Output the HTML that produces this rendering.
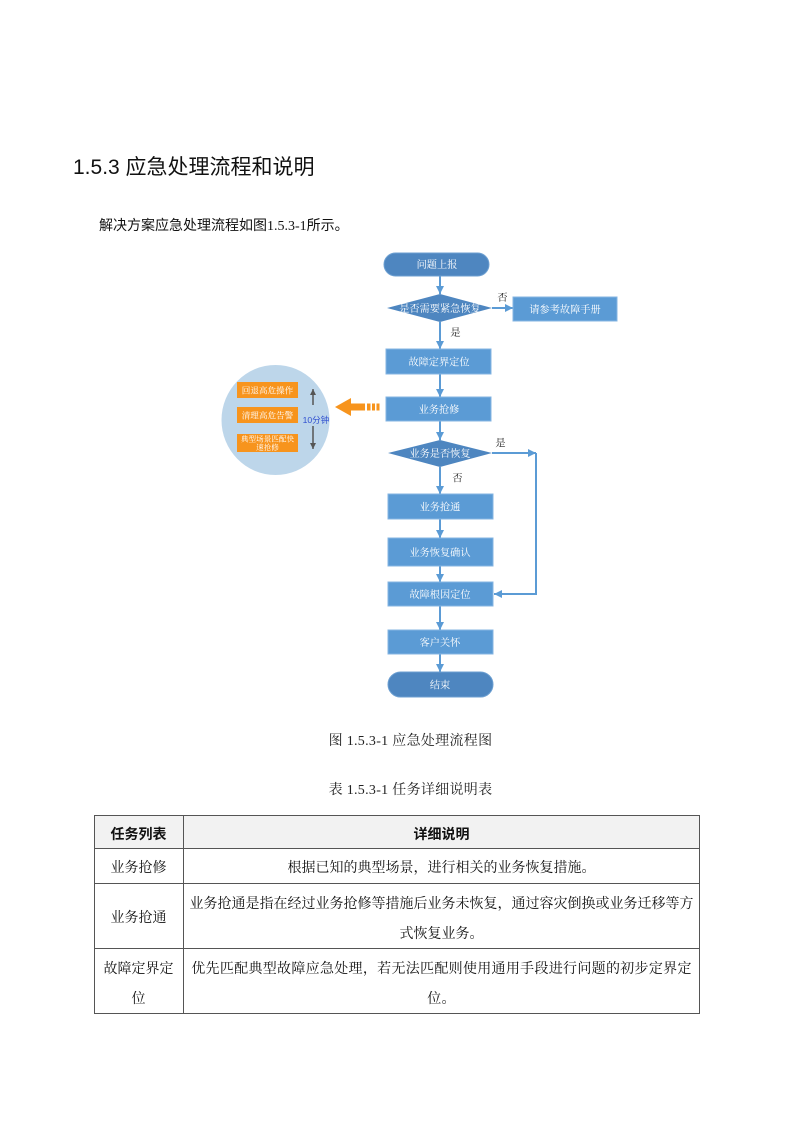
<!DOCTYPE html>
<html>
<head>
<meta charset="utf-8">
<style>
  html,body{margin:0;padding:0;background:#ffffff;}
  body{width:793px;height:1122px;position:relative;overflow:hidden;}
  .abs{position:absolute;white-space:nowrap;}
  .sans{font-family:"Liberation Sans","Noto Sans CJK SC",sans-serif;}
  .serif{font-family:"Liberation Serif","Noto Serif CJK SC",serif;}
  .cell{position:absolute;text-align:center;white-space:nowrap;font-family:"Liberation Serif","Noto Serif CJK SC",serif;font-size:14px;line-height:30px;color:#111;}
</style>
</head>
<body>

<div class="abs sans" style="left:73px;top:156px;font-size:21px;line-height:24px;color:#111;">1.5.3 应急处理流程和说明</div>

<div class="abs sans" style="left:99px;top:216px;font-size:14px;line-height:18px;color:#111;">解决方案应急处理流程如图<span style="font-family:'Liberation Serif',serif;">1.5.3-1</span>所示。</div>

<svg class="abs" style="left:0;top:0;" width="793" height="1122" viewBox="0 0 793 1122" xmlns="http://www.w3.org/2000/svg">
  <defs>
    <marker id="ab" markerUnits="userSpaceOnUse" markerWidth="9" markerHeight="9" refX="8" refY="4" orient="auto">
      <path d="M0,0 L8,4 L0,8 z" fill="#5b9bd5"/>
    </marker>
    <marker id="ag" markerUnits="userSpaceOnUse" markerWidth="7" markerHeight="9" refX="6" refY="3" orient="auto">
      <path d="M0,0 L6,3 L0,6 z" fill="#555"/>
    </marker>
  </defs>

  <!-- left circle -->
  <ellipse cx="275.5" cy="420" rx="54" ry="55" fill="#bdd6ea"/>
  <rect x="237" y="382" width="61" height="16" fill="#f7941d"/>
  <rect x="237" y="407" width="61" height="16" fill="#f7941d"/>
  <rect x="237" y="434" width="61" height="18" fill="#f7941d"/>
  <g font-family="Liberation Serif, Noto Serif CJK SC, serif" fill="#ffffff" text-anchor="middle">
    <text x="267.5" y="393.5" font-size="8.6">回退高危操作</text>
    <text x="267.5" y="418.5" font-size="8.6">清理高危告警</text>
    <text x="267.5" y="441.5" font-size="7.6">典型场景匹配快</text>
    <text x="267.5" y="450" font-size="7.6">速抢修</text>
  </g>
  <line x1="313" y1="405" x2="313" y2="389" stroke="#555" stroke-width="1.5" marker-end="url(#ag)"/>
  <line x1="313" y1="426" x2="313" y2="449" stroke="#555" stroke-width="1.5" marker-end="url(#ag)"/>
  <text x="316" y="423" font-family="Liberation Sans, Noto Sans CJK SC, sans-serif" font-size="8.6" fill="#2f4fd0" text-anchor="middle">10分钟</text>

  <!-- orange arrow -->
  <polygon points="335,407 351,398 351,416" fill="#f7941d"/>
  <rect x="350" y="403.5" width="15" height="7" fill="#f7941d"/>
  <rect x="367" y="403.5" width="3.5" height="7" fill="#f7941d"/>
  <rect x="372" y="403.5" width="3" height="7" fill="#f7941d"/>
  <rect x="376.5" y="403.5" width="3" height="7" fill="#f7941d"/>

  <!-- connectors -->
  <g stroke="#5b9bd5" stroke-width="2" fill="none">
    <line x1="440" y1="276" x2="440" y2="294" marker-end="url(#ab)"/>
    <line x1="492" y1="308" x2="513" y2="308" marker-end="url(#ab)"/>
    <line x1="440" y1="322" x2="440" y2="349" marker-end="url(#ab)"/>
    <line x1="440" y1="374" x2="440" y2="397" marker-end="url(#ab)"/>
    <line x1="440" y1="421" x2="440" y2="440" marker-end="url(#ab)"/>
    <line x1="492" y1="453" x2="536" y2="453" marker-end="url(#ab)"/>
    <path d="M536,453 V594 H494" marker-end="url(#ab)"/>
    <line x1="440" y1="467" x2="440" y2="494" marker-end="url(#ab)"/>
    <line x1="440" y1="519" x2="440" y2="538" marker-end="url(#ab)"/>
    <line x1="440" y1="566" x2="440" y2="582" marker-end="url(#ab)"/>
    <line x1="440" y1="606" x2="440" y2="630" marker-end="url(#ab)"/>
    <line x1="440" y1="654" x2="440" y2="672" marker-end="url(#ab)"/>
  </g>

  <!-- shapes -->
  <rect x="384" y="253" width="105" height="23" rx="11.5" fill="#4e86c0" stroke="#6c9fd1" stroke-width="1"/>
  <polygon points="387,308 440,294 492,308 440,322" fill="#4e86c0"/>
  <rect x="513" y="297" width="104" height="24" fill="#5b9bd5" stroke="#84b5e2" stroke-width="1"/>
  <rect x="386" y="349" width="105" height="25" fill="#5b9bd5" stroke="#84b5e2" stroke-width="1"/>
  <rect x="386" y="397" width="105" height="24" fill="#5b9bd5" stroke="#84b5e2" stroke-width="1"/>
  <polygon points="388,453 440,440 492,453 440,467" fill="#4e86c0"/>
  <rect x="388" y="494" width="105" height="25" fill="#5b9bd5" stroke="#84b5e2" stroke-width="1"/>
  <rect x="388" y="538" width="105" height="28" fill="#5b9bd5" stroke="#84b5e2" stroke-width="1"/>
  <rect x="388" y="582" width="105" height="24" fill="#5b9bd5" stroke="#84b5e2" stroke-width="1"/>
  <rect x="388" y="630" width="105" height="24" fill="#5b9bd5" stroke="#84b5e2" stroke-width="1"/>
  <rect x="388" y="672" width="105" height="25" rx="12.5" fill="#4e86c0" stroke="#6c9fd1" stroke-width="1"/>

  <g font-family="Liberation Serif, Noto Serif CJK SC, serif" font-size="10.2" fill="#ffffff" text-anchor="middle">
    <text x="437" y="268">问题上报</text>
    <text x="440" y="312">是否需要紧急恢复</text>
    <text x="565" y="313">请参考故障手册</text>
    <text x="439" y="365.5">故障定界定位</text>
    <text x="439" y="413">业务抢修</text>
    <text x="440" y="457">业务是否恢复</text>
    <text x="440" y="510.5">业务抢通</text>
    <text x="440" y="556">业务恢复确认</text>
    <text x="440" y="598">故障根因定位</text>
    <text x="440" y="646">客户关怀</text>
    <text x="440" y="688.5">结束</text>
  </g>
  <g font-family="Liberation Serif, Noto Serif CJK SC, serif" font-size="10.2" fill="#222" text-anchor="middle">
    <text x="502.5" y="301">否</text>
    <text x="455.5" y="336">是</text>
    <text x="500.5" y="446.5">是</text>
    <text x="457.5" y="481.5">否</text>
  </g>

  <!-- table -->
  <rect x="94.5" y="815.5" width="605" height="33" fill="#f2f2f2"/>
  <g stroke="#555" stroke-width="1" fill="none">
    <rect x="94.5" y="815.5" width="605" height="198"/>
    <line x1="94.5" y1="848.5" x2="699.5" y2="848.5"/>
    <line x1="94.5" y1="883.5" x2="699.5" y2="883.5"/>
    <line x1="94.5" y1="948.5" x2="699.5" y2="948.5"/>
    <line x1="183.5" y1="815.5" x2="183.5" y2="1013.5"/>
  </g>
</svg>

<div class="abs serif" style="left:300px;top:733px;width:221px;text-align:center;font-size:14px;line-height:18px;color:#222;letter-spacing:0.3px;">图 1.5.3-1 应急处理流程图</div>
<div class="abs serif" style="left:300px;top:782px;width:221px;text-align:center;font-size:14px;line-height:18px;color:#222;letter-spacing:0.3px;">表 1.5.3-1 任务详细说明表</div>

<div class="cell sans" style="left:94px;top:819px;width:89px;font-weight:bold;font-family:'Liberation Sans','Noto Sans CJK SC',sans-serif;font-size:14px;">任务列表</div>
<div class="cell sans" style="left:183px;top:819px;width:517px;font-weight:bold;font-family:'Liberation Sans','Noto Sans CJK SC',sans-serif;font-size:14px;">详细说明</div>

<div class="cell" style="left:94px;top:854px;width:89px;">业务抢修</div>
<div class="cell" style="left:183px;top:854px;width:517px;">根据已知的典型场景，进行相关的业务恢复措施。</div>

<div class="cell" style="left:94px;top:904px;width:89px;">业务抢通</div>
<div class="cell" style="left:183px;top:890px;width:517px;">业务抢通是指在经过业务抢修等措施后业务未恢复，通过容灾倒换或业务迁移等方<br>式恢复业务。</div>

<div class="cell" style="left:94px;top:955px;width:89px;">故障定界定<br>位</div>
<div class="cell" style="left:183px;top:955px;width:517px;letter-spacing:0.3px;">优先匹配典型故障应急处理，若无法匹配则使用通用手段进行问题的初步定界定<br>位。</div>

</body>
</html>
